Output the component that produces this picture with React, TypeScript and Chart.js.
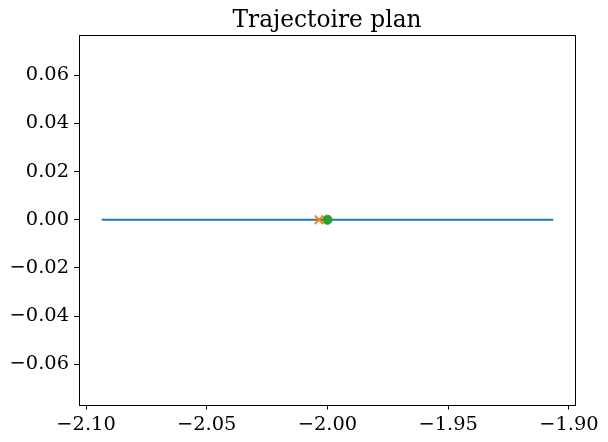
import React, { useEffect, useRef } from "react";
import { Chart, registerables } from "chart.js";

Chart.register(...registerables);

const titleText = "Trajectoire plan";
// Trajectory (blue line)
const trajX = [-2.0935, -1.9065];
const trajY = [0, 0];
// Orange cross marker
const crossX = [-2.0035];
const crossY = [0];
// Green circle marker
const circleX = [-2.0];
const circleY = [0];
// Axis ranges and ticks
const xRange = [-2.1029, -1.8975];
const yRange = [-0.0766, 0.0766];
const xTicks = [-2.1, -2.05, -2.0, -1.95, -1.9];
const yTicks = [-0.06, -0.04, -0.02, 0.0, 0.02, 0.04, 0.06];

const FONT = "'DejaVu Serif', serif";

const fmt = (v: number) => {
  const s = Number(v).toFixed(2);
  return s.startsWith("-") ? "\u2212" + s.slice(1) : s;
};

const framePlugin = {
  id: "frameAndTitle",
  afterDraw(chart: any) {
    const { ctx, chartArea } = chart;
    const l = Math.round(chartArea.left) + 0.5;
    const r = Math.round(chartArea.right) + 0.5;
    const t = Math.round(chartArea.top) + 0.5;
    const b = Math.round(chartArea.bottom) + 0.5;
    ctx.save();
    ctx.strokeStyle = "#000";
    ctx.lineWidth = 1;
    ctx.strokeRect(l, t, r - l, b - t);
    ctx.fillStyle = "#000";
    ctx.font = `23.3px ${FONT}`;
    ctx.textAlign = "center";
    ctx.textBaseline = "alphabetic";
    ctx.fillText(titleText, (chartArea.left + chartArea.right) / 2, chartArea.top - 8);
    ctx.restore();
  },
};

export default function App() {
  const ref = useRef<HTMLCanvasElement | null>(null);
  useEffect(() => {
    if (!ref.current) return;
    const chart = new Chart(ref.current, {
      type: "scatter",
      data: {
        datasets: [
          {
            label: "trajectoire",
            data: trajX.map((x, i) => ({ x, y: trajY[i] })),
            showLine: true,
            borderColor: "#1f77b4",
            backgroundColor: "#1f77b4",
            borderWidth: 2,
            pointRadius: 0,
            order: 3,
          },
          {
            label: "x",
            data: crossX.map((x, i) => ({ x, y: crossY[i] })),
            pointStyle: "crossRot",
            pointRadius: 6,
            borderColor: "#ff7f0e",
            backgroundColor: "#ff7f0e",
            borderWidth: 1.8,
            order: 2,
          },
          {
            label: "o",
            data: circleX.map((x, i) => ({ x, y: circleY[i] })),
            pointStyle: "circle",
            pointRadius: 4.6,
            borderColor: "#2ca02c",
            backgroundColor: "#2ca02c",
            borderWidth: 1,
            order: 1,
          },
        ],
      },
      options: {
        responsive: false,
        animation: false,
        devicePixelRatio: 1,
        layout: { padding: { top: 35, right: 33, bottom: 0, left: 0 } },
        plugins: {
          legend: { display: false },
          title: { display: false },
          tooltip: { enabled: false },
        },
        scales: {
          x: {
            type: "linear",
            min: xRange[0],
            max: xRange[1],
            border: { display: false },
            grid: {
              drawOnChartArea: false,
              drawTicks: true,
              tickLength: 5,
              tickColor: "#000",
              tickWidth: 1,
            },
            ticks: {
              color: "#000",
              font: { family: FONT, size: 19.4 },
              padding: 4,
              maxRotation: 0,
              callback: (v: any) => fmt(Number(v)),
            },
            afterBuildTicks: (s: any) => {
              s.ticks = xTicks.map((v) => ({ value: v }));
            },
            afterFit: (s: any) => {
              s.height = 37.5;
            },
          },
          y: {
            type: "linear",
            min: yRange[0],
            max: yRange[1],
            border: { display: false },
            grid: {
              drawOnChartArea: false,
              drawTicks: true,
              tickLength: 5,
              tickColor: "#000",
              tickWidth: 1,
            },
            ticks: {
              color: "#000",
              font: { family: FONT, size: 19.4 },
              padding: 5,
              callback: (v: any) => fmt(Number(v)),
            },
            afterBuildTicks: (s: any) => {
              s.ticks = yTicks.map((v) => ({ value: v }));
            },
            afterFit: (s: any) => {
              s.width = 79;
            },
          },
        },
      },
      plugins: [framePlugin],
    });
    return () => chart.destroy();
  }, []);
  return (
    <div style={{ position: "absolute", left: 0, top: 0, width: 608, height: 442, background: "#fff" }}>
      <canvas ref={ref} width={608} height={442} style={{ width: 608, height: 442 }} />
    </div>
  );
}
